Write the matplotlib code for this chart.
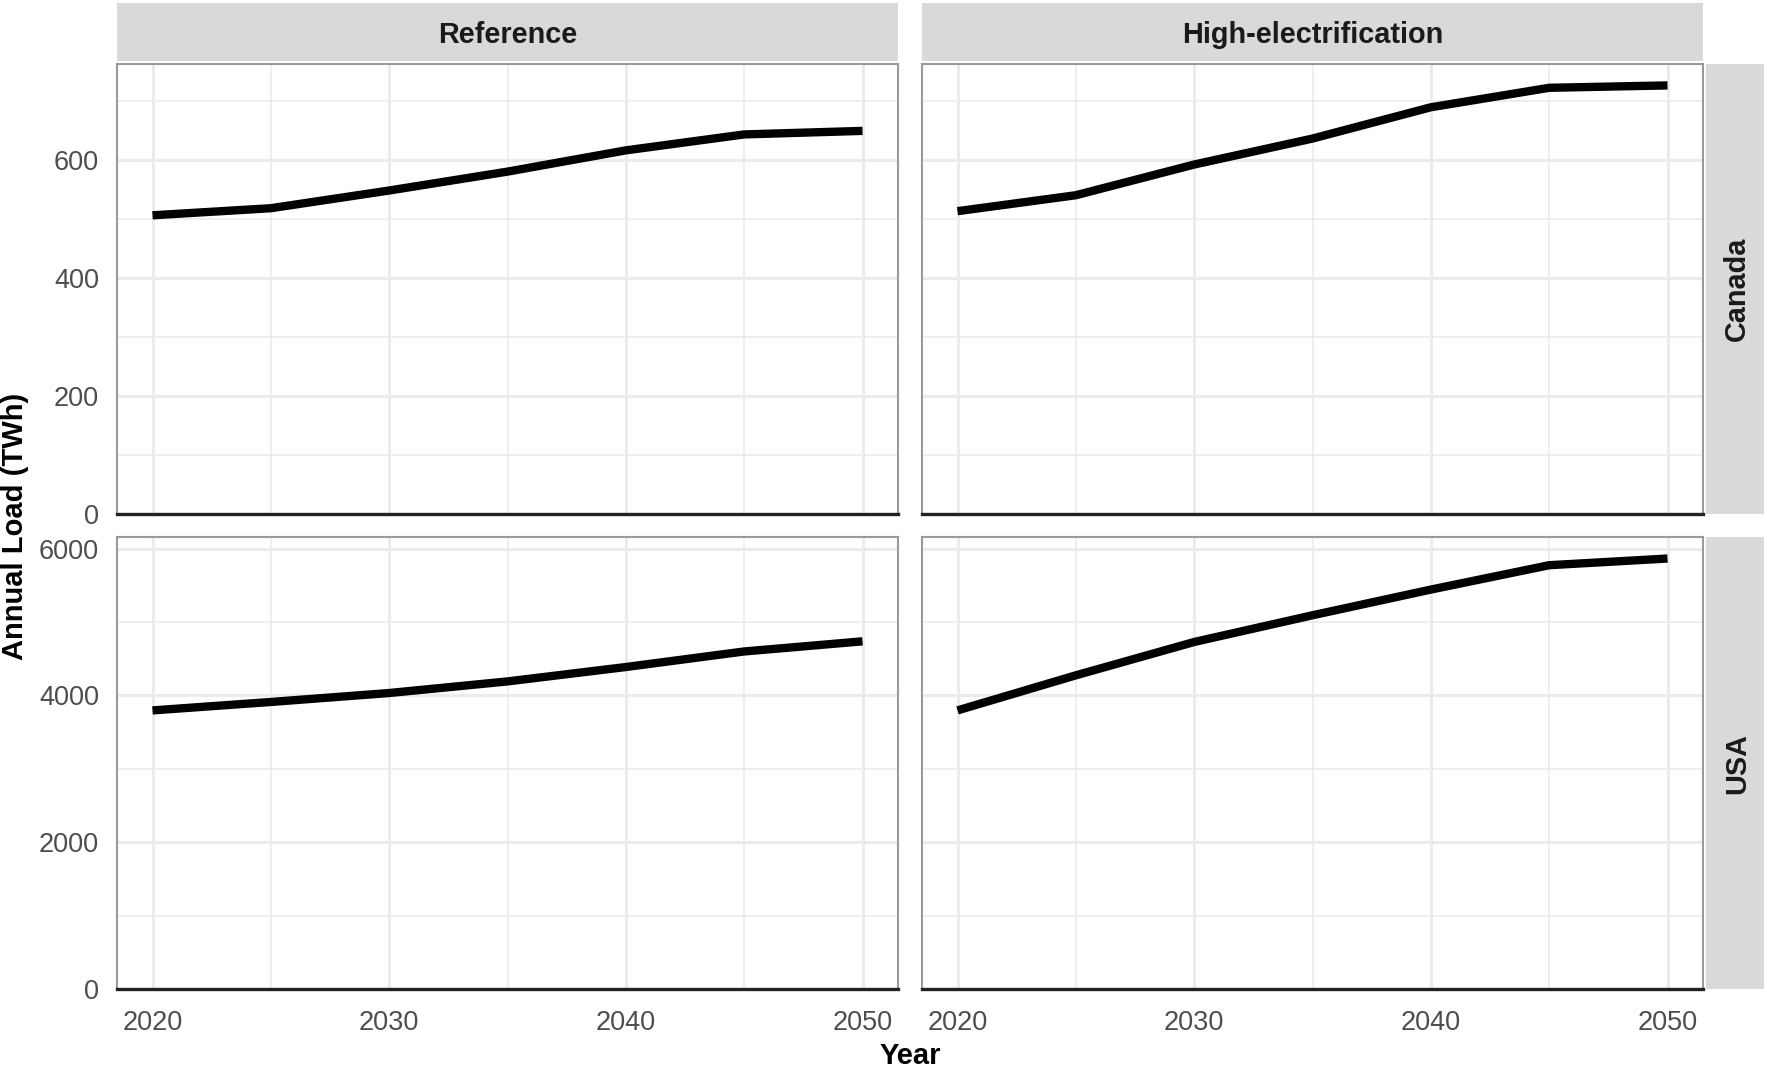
"""
Annual electricity load by scenario (columns) and country (rows),
laid out as a 2x2 facet grid with strip labels on the top and right.
"""
import matplotlib.pyplot as plt
from matplotlib.patches import Rectangle
from matplotlib.ticker import FixedLocator

plt.rcParams['font.family'] = ['Liberation Sans', 'DejaVu Sans']

# Data (TWh)
years = [2020, 2025, 2030, 2035, 2040, 2045, 2050]
scenarios = ['Reference', 'High-electrification']
countries = ['Canada', 'USA']

canada_reference = [506, 518, 548, 580, 616, 643, 649]
canada_high_elec = [513, 540, 592, 636, 689, 722, 726]
usa_reference = [3795, 3910, 4032, 4190, 4386, 4598, 4736]
usa_high_elec = [3795, 4273, 4727, 5091, 5441, 5773, 5864]

series = {
    ('Canada', 'Reference'): canada_reference,
    ('Canada', 'High-electrification'): canada_high_elec,
    ('USA', 'Reference'): usa_reference,
    ('USA', 'High-electrification'): usa_high_elec,
}

major_y = {'Canada': [0, 200, 400, 600], 'USA': [0, 2000, 4000, 6000]}
minor_y = {'Canada': [100, 300, 500, 700], 'USA': [1000, 3000, 5000]}
major_x = [2020, 2030, 2040, 2050]
minor_x = [2025, 2035, 2045]

W, H = 1767, 1069
fig = plt.figure(figsize=(W / 100, H / 100), dpi=100)

# panel boxes in pixels: (left, right) per column, (top, bottom) per row
cols_px = [(117, 898), (922, 1703)]
rows_px = [(64, 514), (537, 989)]

strip_col = '#D9D9D9'
grid_col = '#EBEBEB'

for r, country in enumerate(countries):
    row_max = max(max(series[(country, s)]) for s in scenarios)
    for c, scen in enumerate(scenarios):
        x0, x1 = cols_px[c]
        y0, y1 = rows_px[r]
        ax = fig.add_axes([x0 / W, 1 - y1 / H, (x1 - x0) / W, (y1 - y0) / H])
        ax.plot(years, series[(country, scen)], color='black', lw=6,
                solid_joinstyle='miter', solid_capstyle='butt', zorder=3)

        ax.set_xlim(2018.5, 2051.5)
        ax.set_ylim(0, row_max * 1.05)
        ax.xaxis.set_major_locator(FixedLocator(major_x))
        ax.xaxis.set_minor_locator(FixedLocator(minor_x))
        ax.yaxis.set_major_locator(FixedLocator(major_y[country]))
        ax.yaxis.set_minor_locator(FixedLocator(minor_y[country]))
        ax.grid(which='major', color=grid_col, lw=2.2)
        ax.grid(which='minor', color=grid_col, lw=1.2)
        ax.set_axisbelow(True)
        ax.tick_params(which='both', length=0, labelsize=19.5,
                       labelcolor='#4D4D4D')
        ax.tick_params(axis='x', pad=15)
        ax.tick_params(axis='y', pad=13)

        for side in ['top', 'left', 'right']:
            ax.spines[side].set_color('#9A9A9A')
            ax.spines[side].set_linewidth(1.5)
        ax.spines['bottom'].set_color('#222222')
        ax.spines['bottom'].set_linewidth(2.4)
        ax.spines['bottom'].set_zorder(4)

        if c == 1:
            ax.tick_params(labelleft=False)
        if r == 0:
            ax.tick_params(labelbottom=False)

# top strips with the scenario names
for c, scen in enumerate(scenarios):
    x0, x1 = cols_px[c]
    fig.patches.append(Rectangle((x0 / W, 1 - 61 / H), (x1 - x0) / W, 58 / H,
                                 transform=fig.transFigure, facecolor=strip_col,
                                 edgecolor='none'))
    fig.text((x0 + x1) / 2 / W, 1 - 35 / H, scen, ha='center', va='center',
             fontsize=20.8, fontweight='bold', color='#1A1A1A')

# right strips with the country names
for r, country in enumerate(countries):
    y0, y1 = rows_px[r]
    fig.patches.append(Rectangle((1706 / W, 1 - y1 / H), 58 / W, (y1 - y0) / H,
                                 transform=fig.transFigure, facecolor=strip_col,
                                 edgecolor='none'))
    fig.text(1737 / W, 1 - (y0 + y1) / 2 / H, country, ha='center', va='center',
             rotation=90, fontsize=20.8, fontweight='bold', color='#1A1A1A')

fig.text(910 / W, 1 - 1056 / H, 'Year', ha='center', va='center',
         fontsize=21, fontweight='bold', color='black')
fig.text(15 / W, 1 - 526 / H, 'Annual Load (TWh)', ha='center', va='center',
         rotation=90, fontsize=21, fontweight='bold', color='black')

fig.savefig('out.png', dpi=100, facecolor='white')
